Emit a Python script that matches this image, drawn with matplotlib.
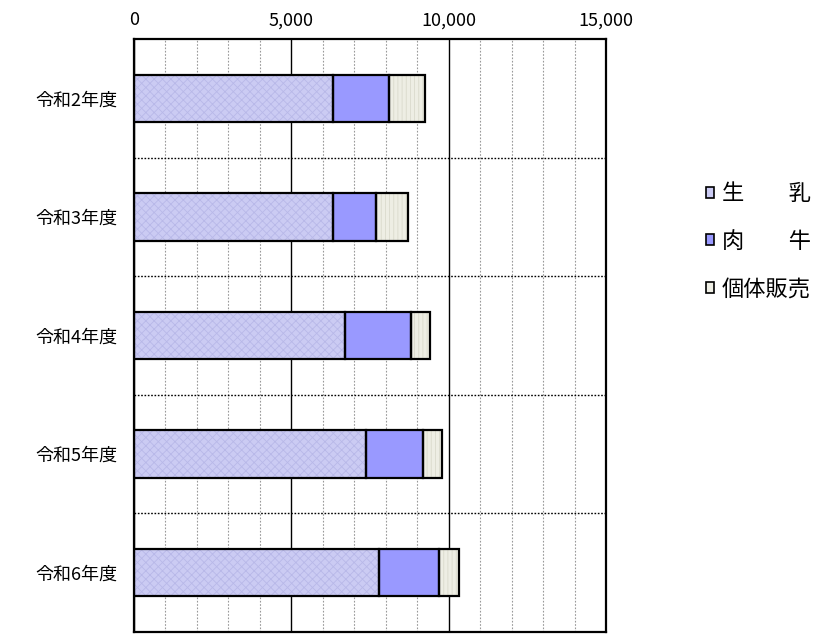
import numpy as np
import matplotlib
matplotlib.use("Agg")
import matplotlib.pyplot as plt
from matplotlib.patches import Patch
from matplotlib.ticker import MultipleLocator, FuncFormatter

plt.rcParams['font.family'] = ['Noto Sans CJK JP', 'DejaVu Sans']
plt.rcParams['hatch.linewidth'] = 0.6

# データ
nendo = ["令和2年度", "令和3年度", "令和4年度", "令和5年度", "令和6年度"]
seinyu = [6320, 6320, 6710, 7360, 7800]
nikugyu = [1780, 1380, 2080, 1820, 1890]
kotai = [1160, 1000, 600, 600, 640]
labels = ["生　　乳", "肉　　牛", "個体販売"]

face = ["#cbcbf3", "#9999ff", "#eeeee4"]
hatch_col = ["#b8b8e8", "#9999ff", "#dadacc"]
hatches = ["xxxx", None, "||||"]

fig = plt.figure(figsize=(8.35, 6.35), dpi=100)
ax = fig.add_axes([0.1605, 0.0047, 0.5653, 0.9339])

y = np.arange(len(nendo))
h = 0.4
left = np.zeros(len(nendo))
for vals, fc, hc, ht in zip([seinyu, nikugyu, kotai], face, hatch_col, hatches):
    ax.barh(y, vals, height=h, left=left, color=fc, edgecolor=hc, hatch=ht,
            linewidth=0, zorder=3)
    ax.barh(y, vals, height=h, left=left, fill=False, edgecolor="black",
            linewidth=1.6, zorder=4)
    left = left + np.array(vals)

ax.set_xlim(0, 15000)
ax.set_ylim(len(nendo) - 0.5, -0.5)
ax.xaxis.tick_top()
ax.xaxis.set_major_locator(MultipleLocator(5000))
ax.xaxis.set_minor_locator(MultipleLocator(1000))
ax.xaxis.set_major_formatter(FuncFormatter(lambda v, p: f"{int(v):,}"))
ax.set_yticks(y)
ax.set_yticklabels(nendo)
ax.tick_params(axis="x", which="both", length=0, pad=7, labelsize=13)
ax.tick_params(axis="y", length=0, pad=12, labelsize=13)

# グリッド
ax.grid(axis="x", which="minor", color="#999999", linestyle=(0, (1.5, 1.5)), linewidth=0.8, zorder=1)
ax.grid(axis="x", which="major", color="black", linestyle="-", linewidth=1.0, zorder=1)
for b in np.arange(0.5, len(nendo) - 0.5, 1):
    ax.axhline(b, color="black", linestyle=(0, (1.2, 1.2)), linewidth=1.0, zorder=2)

for s in ax.spines.values():
    s.set_linewidth(1.6)
    s.set_zorder(5)

handles = [Patch(facecolor=fc, edgecolor="black", linewidth=1.2) for fc in face]
fig.legend(handles, labels, loc="center left", bbox_to_anchor=(0.845, 0.62),
           frameon=False, fontsize=16, handlelength=0.38, handleheight=0.38,
           handletextpad=0.35, labelspacing=1.1, borderpad=0, borderaxespad=0)

fig.savefig("out.png", dpi=100)
